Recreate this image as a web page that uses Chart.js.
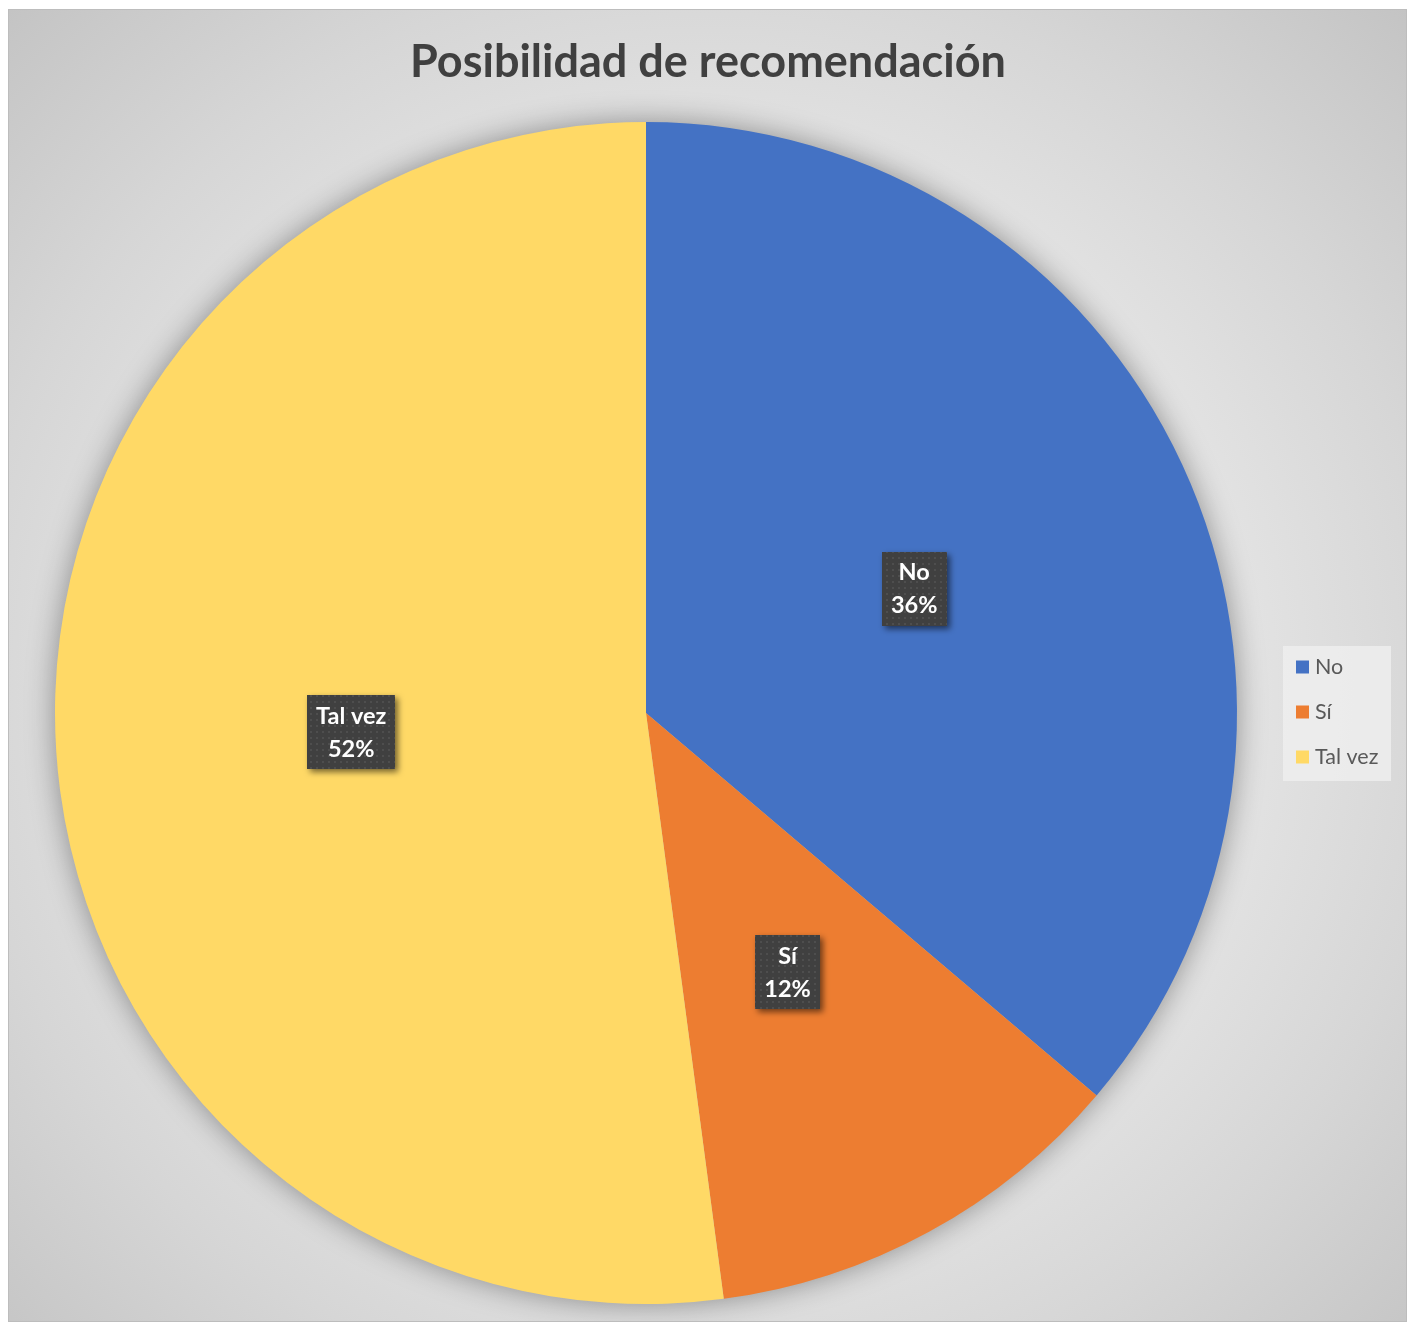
<!DOCTYPE html>
<html>
<head>
<meta charset="utf-8">
<script src="https://cdn.jsdelivr.net/npm/chart.js@4.4.0/dist/chart.umd.min.js"></script>
<style>
  html, body { margin: 0; padding: 0; background: #ffffff; }
  #frame {
    position: absolute; left: 8px; top: 9px; width: 1399px; height: 1313px;
    box-sizing: border-box; border: 1px solid #bdbdbd;
    background: radial-gradient(ellipse farthest-corner at 50% 52%, #fafafa 0%, #ececec 40%, #d6d6d6 75%, #c4c4c4 100%);
  }
  canvas { position: absolute; left: 0; top: 0; }
</style>
</head>
<body>
<div id="frame"><canvas id="c" width="1397" height="1311"></canvas></div>
<script>
const title = 'Posibilidad de recomendación';
const categories = ['No', 'Sí', 'Tal vez'];
const values = [36.2, 11.7, 52.1];
const colors = ['#4472C4', '#ED7D31', '#FFD966'];

const FONT = 'Lato, "Open Sans", "Noto Sans", sans-serif';

function dotPattern(ctx) {
  const p = document.createElement('canvas');
  p.width = 6; p.height = 6;
  const g = p.getContext('2d');
  g.fillStyle = '#404040'; g.fillRect(0, 0, 6, 6);
  g.fillStyle = '#4e4e4e'; g.fillRect(1, 1, 2, 2);
  return ctx.createPattern(p, 'repeat');
}

const decor = {
  id: 'decor',
  beforeDatasetsDraw(chart) {
    const arc = chart.getDatasetMeta(0).data[0];
    if (!arc) return;
    const { x, y, outerRadius } = arc.getProps(['x', 'y', 'outerRadius'], true);
    const ctx = chart.ctx;
    ctx.save();
    ctx.shadowColor = 'rgba(0,0,0,0.4)';
    ctx.shadowBlur = 30;
    ctx.fillStyle = '#bbbbbb';
    ctx.beginPath();
    ctx.arc(x, y, outerRadius - 1, 0, Math.PI * 2);
    ctx.fill();
    ctx.restore();
  },
  afterDatasetsDraw(chart) {
    const ctx = chart.ctx;
    const meta = chart.getDatasetMeta(0);
    const total = values.reduce((a, b) => a + b, 0);
    const pat = dotPattern(ctx);
    meta.data.forEach((arc, i) => {
      const { x, y, startAngle, endAngle, outerRadius } =
        arc.getProps(['x', 'y', 'startAngle', 'endAngle', 'outerRadius'], true);
      const mid = (startAngle + endAngle) / 2;
      const r = outerRadius * 0.5;
      const cx = x + Math.cos(mid) * r;
      const cy = y + Math.sin(mid) * r;
      const l1 = categories[i];
      const l2 = Math.round(values[i] / total * 100) + '%';
      ctx.save();
      ctx.font = 'bold 23.5px ' + FONT;
      const w = Math.max(ctx.measureText(l1).width, ctx.measureText(l2).width) + 18;
      const h = 74;
      ctx.shadowColor = 'rgba(0,0,0,0.55)';
      ctx.shadowBlur = 6;
      ctx.shadowOffsetX = 3;
      ctx.shadowOffsetY = 3;
      ctx.fillStyle = pat;
      ctx.fillRect(Math.round(cx - w / 2), Math.round(cy - h / 2), Math.round(w), h);
      ctx.restore();
      ctx.save();
      ctx.font = 'bold 23.5px ' + FONT;
      ctx.fillStyle = '#ffffff';
      ctx.textAlign = 'center';
      ctx.textBaseline = 'middle';
      ctx.fillText(l1, cx, cy - 16);
      ctx.fillText(l2, cx, cy + 17);
      ctx.restore();
    });
  },
  afterDraw(chart) {
    const ctx = chart.ctx;
    // title
    ctx.save();
    ctx.font = 'bold 45px ' + FONT;
    ctx.fillStyle = '#404040';
    ctx.textAlign = 'center';
    ctx.textBaseline = 'middle';
    ctx.fillText(title, 699, 52);
    ctx.restore();
    // legend
    ctx.save();
    ctx.fillStyle = 'rgba(240,240,240,0.75)';
    ctx.fillRect(1274, 636, 108, 135);
    ctx.font = '21.5px ' + FONT;
    ctx.textBaseline = 'middle';
    categories.forEach((c, i) => {
      const yy = 657 + i * 45;
      ctx.fillStyle = colors[i];
      ctx.fillRect(1287, yy - 6.5, 13, 13);
      ctx.fillStyle = '#595959';
      ctx.fillText(c, 1306, yy);
    });
    ctx.restore();
  }
};

new Chart(document.getElementById('c'), {
  type: 'pie',
  data: {
    labels: categories,
    datasets: [{
      data: values,
      backgroundColor: colors,
      borderWidth: 0,
      hoverOffset: 0
    }]
  },
  options: {
    responsive: false,
    animation: false,
    layout: { padding: { left: 46, right: 169, top: 112, bottom: 17 } },
    plugins: {
      legend: { display: false },
      title: { display: false },
      tooltip: { enabled: false }
    }
  },
  plugins: [decor]
});
</script>
</body>
</html>
